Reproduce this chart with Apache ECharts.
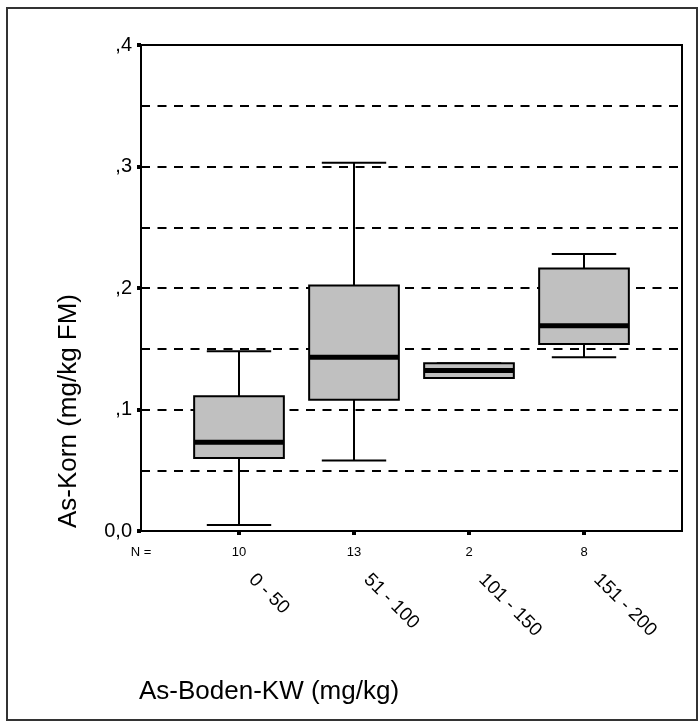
<!DOCTYPE html>
<html>
<head>
<meta charset="utf-8">
<script src="https://cdn.jsdelivr.net/npm/echarts@6/dist/echarts.min.js"></script>
<style>
html,body{margin:0;padding:0;background:#fff;}
#chart{width:699px;height:727px;}
</style>
</head>
<body>
<div id="chart"></div>
<script>
// ---- data ----
const categories = ['0 - 50', '51 - 100', '101 - 150', '151 - 200'];
const nValues = [10, 13, 2, 8];
const mins    = [0.005, 0.058, 0.126, 0.143];
const q1s     = [0.060, 0.108, 0.126, 0.154];
const medians = [0.073, 0.143, 0.132, 0.169];
const q3s     = [0.111, 0.202, 0.138, 0.216];
const maxs    = [0.148, 0.303, 0.138, 0.228];
const yTickLabels = {0: '0,0', 1: ',1', 2: ',2', 3: ',3', 4: ',4'};
const yTitle = 'As-Korn (mg/kg FM)';
const xTitle = 'As-Boden-KW (mg/kg)';
const nLabel = 'N =';

const boxData = categories.map((c, i) => [i, mins[i], q1s[i], medians[i], q3s[i], maxs[i]]);

const FONT = "'Liberation Sans', Arial, sans-serif";
const dash = [9, 7.5];

const chart = echarts.init(document.getElementById('chart'), null, {renderer: 'canvas'});

const option = {
  animation: false,
  backgroundColor: '#fff',
  textStyle: {fontFamily: FONT, color: '#000'},
  grid: [
    {left: 141, top: 45, width: 541, height: 486, show: true, borderColor: '#000', borderWidth: 2, backgroundColor: 'transparent'},
    {left: 181.5, top: 45, width: 460, height: 486}
  ],
  xAxis: [
    {
      gridIndex: 0, type: 'value', min: 0, max: 1, interval: 1,
      axisLine: {show: true, lineStyle: {color: '#000', width: 2}},
      axisTick: {show: false},
      splitLine: {show: false},
      axisLabel: {
        fontSize: 13, color: '#000', margin: 15, fontFamily: FONT,
        formatter: v => (v === 0 ? nLabel : '')
      }
    },
    {
      gridIndex: 1, type: 'category', data: categories, boundaryGap: true,
      axisLine: {show: false},
      axisTick: {show: true, alignWithLabel: true, length: 4, lineStyle: {color: '#000', width: 4}},
      splitLine: {show: false},
      axisLabel: {
        interval: 0, fontSize: 13, color: '#000', margin: 15, fontFamily: FONT,
        formatter: (v, i) => String(nValues[i])
      }
    },
    {
      gridIndex: 1, type: 'category', data: categories, boundaryGap: true, position: 'bottom',
      axisLine: {show: false},
      axisTick: {show: false},
      splitLine: {show: false},
      axisLabel: {interval: 0, rotate: -45, fontSize: 19, color: '#000', margin: 33,
                  padding: [0, 0, 0, 18], fontFamily: FONT}
    }
  ],
  yAxis: [
    {
      gridIndex: 0, type: 'value', min: 0, max: 0.4, interval: 0.1,
      axisLine: {show: true, lineStyle: {color: '#000', width: 2}},
      axisTick: {show: true, length: 4, lineStyle: {color: '#000', width: 4}},
      minorTick: {show: false, splitNumber: 2},
      splitLine: {show: true, lineStyle: {color: '#000', width: 1.8, type: dash}},
      minorSplitLine: {show: true, lineStyle: {color: '#000', width: 1.8, type: dash}},
      axisLabel: {
        fontSize: 20, color: '#000', margin: 9, fontFamily: FONT,
        formatter: v => yTickLabels[Math.round(v * 10)]
      }
    },
    {
      gridIndex: 1, type: 'value', min: 0, max: 0.4, show: false
    }
  ],
  graphic: [
    {type: 'rect', z: -10, shape: {x: 7, y: 8, width: 690, height: 712}, style: {fill: 'none', stroke: '#333', lineWidth: 2}},
    {type: 'text', x: 69, y: 411, rotation: Math.PI / 2,
     style: {text: yTitle, font: '26px ' + FONT, fill: '#000', align: 'center', verticalAlign: 'middle'}},
    {type: 'text', x: 139, y: 692,
     style: {text: xTitle, font: '26px ' + FONT, fill: '#000', align: 'left', verticalAlign: 'middle'}}
  ],
  series: [
    {
      type: 'custom',
      xAxisIndex: 1, yAxisIndex: 1,
      encode: {x: 0, y: [1, 2, 3, 4, 5]},
      data: boxData,
      z: 10,
      renderItem: function (params, api) {
        const x = api.value(0);
        const lo = api.coord([x, api.value(1)]);
        const q1 = api.coord([x, api.value(2)]);
        const med = api.coord([x, api.value(3)]);
        const q3 = api.coord([x, api.value(4)]);
        const hi = api.coord([x, api.value(5)]);
        const band = api.size([1, 0])[0];
        const bw = band * 0.78;
        const cw = band * 0.56;
        const cx = lo[0];
        const ls = {stroke: '#000', lineWidth: 2};
        return {
          type: 'group',
          children: [
            {type: 'line', shape: {x1: cx, y1: hi[1], x2: cx, y2: q3[1]}, style: ls},
            {type: 'line', shape: {x1: cx, y1: q1[1], x2: cx, y2: lo[1]}, style: ls},
            {type: 'line', shape: {x1: cx - cw / 2, y1: hi[1], x2: cx + cw / 2, y2: hi[1]}, style: ls},
            {type: 'line', shape: {x1: cx - cw / 2, y1: lo[1], x2: cx + cw / 2, y2: lo[1]}, style: ls},
            {type: 'rect', shape: {x: cx - bw / 2, y: q3[1], width: bw, height: q1[1] - q3[1]},
             style: {fill: '#c0c0c0', stroke: '#000', lineWidth: 2}},
            {type: 'line', shape: {x1: cx - bw / 2, y1: med[1], x2: cx + bw / 2, y2: med[1]},
             style: {stroke: '#000', lineWidth: 5}}
          ]
        };
      }
    }
  ]
};
chart.setOption(option);
</script>
</body>
</html>
